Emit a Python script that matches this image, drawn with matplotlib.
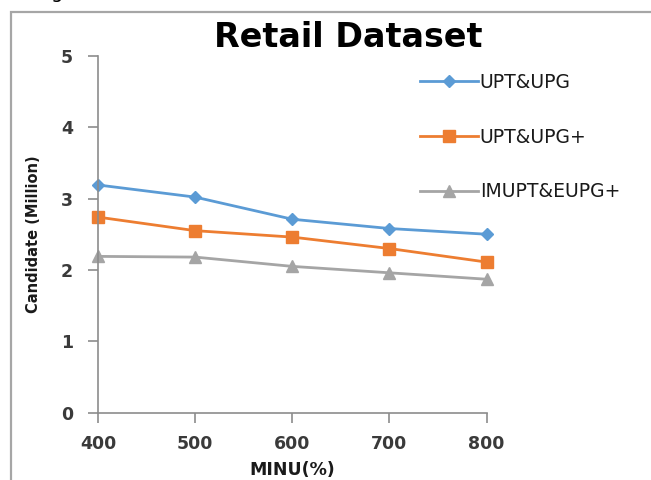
import matplotlib
matplotlib.use("Agg")
import matplotlib.pyplot as plt
from matplotlib.patches import Rectangle

# Candidate counts (millions) for each MINU threshold
minu = [400, 500, 600, 700, 800]
upt_upg = [3.19, 3.02, 2.71, 2.58, 2.50]
upt_upg_plus = [2.74, 2.55, 2.46, 2.30, 2.11]
imupt_eupg_plus = [2.19, 2.18, 2.05, 1.96, 1.87]
series_names = ["UPT&UPG", "UPT&UPG+", "IMUPT&EUPG+"]
y_ticks = [0, 1, 2, 3, 4, 5]

plt.rcParams["font.family"] = ["DejaVu Sans"]

fig = plt.figure(figsize=(6.51, 4.80), dpi=100)
ax = fig.add_axes([0.1505, 0.140, 0.597, 0.744])

# Outer chart frame
fig.patches.append(Rectangle((0.0175, -0.05), 1.2, 1.025, transform=fig.transFigure,
                             fill=False, edgecolor="#a6a6a6", linewidth=1.6))
# Descender of the caption line above the chart
fig.text(0.087, 1.016, "g", fontsize=14, ha="center", va="center", color="black")

grey = "#8c8c8c"
ax.plot(minu, upt_upg, color="#5b9bd5", marker="D", markersize=6, linewidth=2.0,
        label=series_names[0], clip_on=False)
ax.plot(minu, upt_upg_plus, color="#ed7d31", marker="s", markersize=9, linewidth=2.0,
        label=series_names[1], clip_on=False)
ax.plot(minu, imupt_eupg_plus, color="#a5a5a5", marker="^", markersize=8, linewidth=2.0,
        label=series_names[2], clip_on=False)

ax.set_xlim(400, 800)
ax.set_ylim(0, 5)
ax.set_xticks(minu)
ax.set_yticks(y_ticks)
for s in ("top", "right"):
    ax.spines[s].set_visible(False)
for s in ("left", "bottom"):
    ax.spines[s].set_color(grey)
    ax.spines[s].set_linewidth(1.2)
ax.tick_params(axis="both", colors=grey, length=7, width=1.2, direction="out")
ax.tick_params(axis="y", labelcolor="#3a3a3a", labelsize=12.5, pad=11)
ax.tick_params(axis="x", labelcolor="#3a3a3a", labelsize=12.5, pad=9)
for lbl in ax.get_xticklabels() + ax.get_yticklabels():
    lbl.set_fontweight("bold")

fig.text(0.535, 0.922, "Retail Dataset", fontsize=24, fontweight="bold",
         ha="center", va="center", color="black")

ax.set_xlabel("MINU(%)", fontsize=12.5, fontweight="bold", color="#1a1a1a")
ax.xaxis.label.set_va("center")
ax.xaxis.set_label_coords(0.5, -0.16)
ax.set_ylabel("Candidate (Million)", fontsize=10.5, fontweight="bold", color="#1a1a1a")
ax.yaxis.label.set_va("center")
ax.yaxis.set_label_coords(-0.165, 0.5)

leg = ax.legend(loc="center left", bbox_to_anchor=(0.828, 0.772), frameon=False,
                fontsize=13.5, labelspacing=1.9, handlelength=3.1, handletextpad=0.1,
                borderpad=0, borderaxespad=0)
for t in leg.get_texts():
    t.set_color("#1a1a1a")

fig.savefig("out.png", dpi=100)
